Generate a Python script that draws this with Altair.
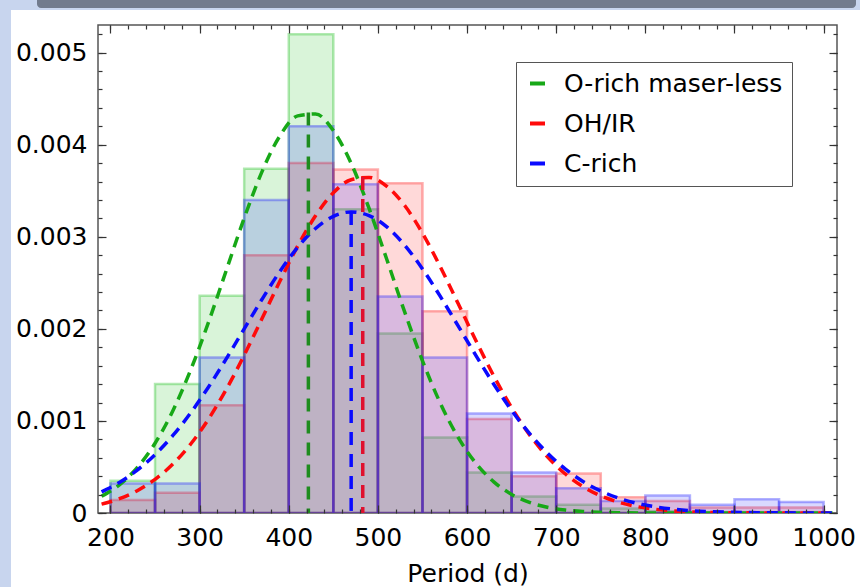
import altair as alt
import pandas as pd

series_names = ["O-rich maser-less", "OH/IR", "C-rich"]
line_colors = ["#17a817", "#ff0a0a", "#0a0aff"]
rule_colors = ["#1e8c1e", "#e0102e", "#0a0aff"]

bin_start = [200, 250, 300, 350, 400, 450, 500, 550, 600, 650, 700, 750, 800, 850, 900, 950]
bin_end = [250, 300, 350, 400, 450, 500, 550, 600, 650, 700, 750, 800, 850, 900, 950, 1000]

green_hist = [0.00035, 0.0014, 0.00236, 0.00374, 0.0052, 0.0033, 0.00195, 0.00082,
              0.00044, 0.00018, 0.00009, 0.00005, 0.00002, 0.0, 0.0, 0.0]
red_hist = [0.00014, 0.00022, 0.00117, 0.0028, 0.0038, 0.00373, 0.00358, 0.00219,
            0.00102, 0.0004, 0.00043, 0.00017, 0.00013, 0.00006, 0.00006, 0.00006]
blue_hist = [0.00032, 0.00032, 0.00169, 0.0034, 0.0042, 0.00357, 0.00235, 0.00169,
             0.00108, 0.00044, 0.00027, 0.00013, 0.00019, 0.00009, 0.00015, 0.00012]

curve_x = [190, 210, 230, 250, 270, 290, 310, 330, 350, 370, 390, 410, 430, 450,
           470, 490, 510, 530, 550, 570, 590, 610, 630, 650, 670, 690, 710, 730,
           750, 770, 790, 810, 830, 850, 870, 890, 910, 930, 950, 970, 990, 1010]
green_curve = [0.000181, 0.000306, 0.000493, 0.000757, 0.001111, 0.001554, 0.002073,
               0.002638, 0.003203, 0.003708, 0.004095, 0.004313, 0.004334, 0.004153,
               0.003797, 0.003310, 0.002753, 0.002184, 0.001653, 0.001193, 0.000821,
               0.000539, 0.000338, 0.000202, 0.000115, 0.000063, 0.000032, 0.000016,
               0.000008, 0.000003, 0.000001, 0.0, 0.0, 0.0, 0.0, 0.0, 0.0, 0.0, 0.0,
               0.0, 0.0, 0.0]
red_curve = [0.000096, 0.000155, 0.000242, 0.000365, 0.000531, 0.000749, 0.001021,
             0.001345, 0.001714, 0.002112, 0.002516, 0.002899, 0.003228, 0.003477,
             0.003620, 0.003645, 0.003548, 0.003339, 0.003039, 0.002674, 0.002275,
             0.001871, 0.001488, 0.001145, 0.000851, 0.000612, 0.000426, 0.000286,
             0.000186, 0.000117, 0.000071, 0.000042, 0.000024, 0.000013, 0.000007,
             0.000004, 0.000002, 0.000001, 0.0, 0.0, 0.0, 0.0]
blue_curve = [0.000230, 0.000332, 0.000465, 0.000634, 0.000842, 0.001088, 0.001369,
              0.001677, 0.002000, 0.002321, 0.002623, 0.002886, 0.003090, 0.003222,
              0.003270, 0.003231, 0.003107, 0.002909, 0.002651, 0.002352, 0.002032,
              0.001709, 0.001399, 0.001114, 0.000865, 0.000653, 0.000480, 0.000343,
              0.000239, 0.000162, 0.000107, 0.000069, 0.000043, 0.000026, 0.000016,
              0.000009, 0.000005, 0.000003, 0.000002, 0.000001, 0.0, 0.0]

mean_period = [422, 483, 470]
mean_peak = [0.00435, 0.00365, 0.00327]

x_major = [200, 300, 400, 500, 600, 700, 800, 900, 1000]
x_minor = [200, 220, 240, 260, 280, 300, 320, 340, 360, 380, 400, 420, 440, 460, 480,
           500, 520, 540, 560, 580, 600, 620, 640, 660, 680, 700, 720, 740, 760, 780,
           800, 820, 840, 860, 880, 900, 920, 940, 960, 980, 1000]
y_major = [0.0, 0.001, 0.002, 0.003, 0.004, 0.005]
y_minor = [0.0, 0.0002, 0.0004, 0.0006, 0.0008, 0.001, 0.0012, 0.0014, 0.0016, 0.0018,
           0.002, 0.0022, 0.0024, 0.0026, 0.0028, 0.003, 0.0032, 0.0034, 0.0036, 0.0038,
           0.004, 0.0042, 0.0044, 0.0046, 0.0048, 0.005, 0.0052]

FONT = "DejaVu Sans"
xscale = alt.Scale(domain=[186, 1015], nice=False, zero=False)
yscale = alt.Scale(domain=[0, 0.0053], nice=False, zero=False)

def ax(orient, values, size, labels=False, title=None, **kw):
    return alt.Axis(orient=orient, values=values, tickSize=size, offset=-size,
                    domain=False, grid=False, labels=labels, title=title,
                    tickColor="#333333", tickWidth=1.2, zindex=2, **kw)

x_major_bottom = ax("bottom", x_major, 8, labels=True, title="Period (d)",
                    labelFont=FONT, labelFontSize=25, labelColor="black",
                    labelPadding=12, labelExpr="format(datum.value, 'd')",
                    titleFont=FONT, titleFontSize=25,
                    titleFontWeight="normal", titleColor="black", titlePadding=11)
y_major_left = ax("left", y_major, 8, labels=True, labelFont=FONT, labelFontSize=25,
                  labelColor="black", labelPadding=11,
                  labelExpr="datum.value == 0 ? '0' : format(datum.value, '.3f')")

# decorative slide frame
decor_df = pd.DataFrame({"k": [0]})
strip_left = alt.Chart(decor_df).mark_rect(color="#c8d5ee").encode(
    x=alt.value(-98), x2=alt.value(-87), y=alt.value(-25), y2=alt.value(562))
strip_top = alt.Chart(decor_df).mark_rect(color="#c8d5ee").encode(
    x=alt.value(-98), x2=alt.value(762), y=alt.value(-25), y2=alt.value(-15))
gray_bar = alt.Chart(decor_df).mark_rect(
    color="#727b8d", cornerRadiusBottomLeft=8, cornerRadiusBottomRight=8).encode(
    x=alt.value(-61), x2=alt.value(758), y=alt.value(-25), y2=alt.value(-17))


def hist_layer(values, color, xaxis, yaxis):
    df = pd.DataFrame({"start": bin_start, "end": bin_end, "value": values})
    return alt.Chart(df).mark_rect(
        fill=color, fillOpacity=0.17, stroke=color, strokeOpacity=0.35,
        strokeWidth=2.5, clip=True
    ).encode(
        x=alt.X("start:Q", scale=xscale, axis=xaxis),
        x2="end:Q",
        y=alt.Y("value:Q", scale=yscale, axis=yaxis),
        y2=alt.datum(0),
    )

bars_g = hist_layer(green_hist, "#1fbf1f", x_major_bottom, y_major_left)
bars_r = hist_layer(red_hist, "#ff2020", ax("bottom", x_minor, 4), ax("left", y_minor, 4))
bars_b = hist_layer(blue_hist, "#2020ff", ax("top", x_major, 8), ax("right", y_major, 8))

curve_rows = []
for name, vals in zip(series_names, [green_curve, red_curve, blue_curve]):
    for xv, yv in zip(curve_x, vals):
        curve_rows.append({"period": xv, "density": yv, "series": name})
curve_df = pd.DataFrame(curve_rows)

curves = alt.Chart(curve_df).mark_line(
    strokeDash=[11, 7], strokeWidth=3.5, interpolate="monotone", clip=True
).encode(
    x=alt.X("period:Q", scale=xscale, axis=ax("top", x_minor, 4)),
    y=alt.Y("density:Q", scale=yscale, axis=ax("right", y_minor, 4)),
    stroke=alt.Stroke("series:N", sort=series_names,
                      scale=alt.Scale(domain=series_names, range=line_colors),
                      legend=alt.Legend(title=None, orient="none", legendX=418, legendY=37,
                                        symbolType="stroke", symbolStrokeWidth=4,
                                        symbolSize=225, symbolDash=[1, 0],
                                        labelFont=FONT, labelFontSize=25, labelLimit=0,
                                        labelColor="black", labelOffset=14,
                                        rowPadding=14, padding=9,
                                        strokeColor="#555555", fillColor="white")),
)

rule_df = pd.DataFrame({"period": mean_period, "peak": mean_peak, "col": rule_colors})
rules = alt.Chart(rule_df).mark_rule(strokeDash=[13, 9], strokeWidth=3.5).encode(
    x=alt.X("period:Q", scale=xscale, axis=None),
    y=alt.Y("peak:Q", scale=yscale, axis=None),
    y2=alt.datum(0),
    color=alt.Color("col:N", scale=None),
)

chart = alt.layer(
    strip_left, strip_top, gray_bar, bars_g, bars_r, bars_b, curves, rules
).resolve_axis(x="independent", y="independent").properties(
    width=739, height=488,
    padding={"left": 98, "top": 25, "right": 23, "bottom": 74},
    autosize=alt.AutoSizeParams(type="none"),
    background="white",
).configure_view(stroke="#555555", strokeWidth=1.5)

chart.save("out.html", embed_options={"renderer": "svg", "actions": False})
